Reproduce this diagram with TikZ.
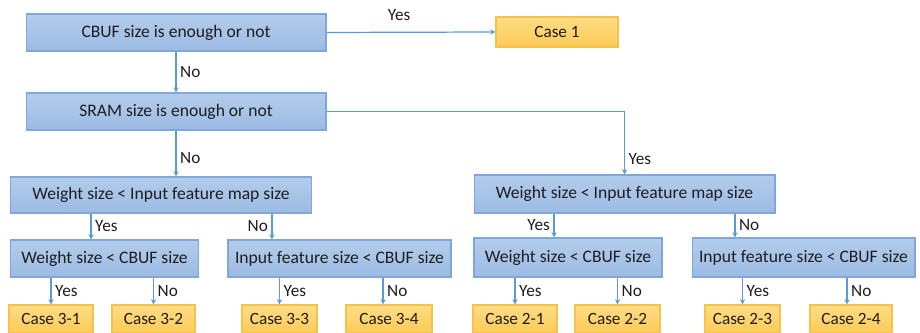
\documentclass[tikz,border=0pt]{standalone}
\usepackage{fontspec}
\setmainfont{Carlito}
\usetikzlibrary{arrows.meta,positioning}

\definecolor{boxtop}{HTML}{B3CCEB}
\definecolor{boxbot}{HTML}{9CBBE4}
\definecolor{boxline}{HTML}{7FA7DA}
\definecolor{casetop}{HTML}{FFDC85}
\definecolor{casebot}{HTML}{FDCB58}
\definecolor{caseline}{HTML}{F6C34A}
\definecolor{arrline}{HTML}{5B9BD5}
\definecolor{txt}{HTML}{1E1E1E}

\tikzset{
  testbox/.style={draw=boxline, line width=0.6pt, top color=boxtop, bottom color=boxbot,
    minimum height=0.74cm, inner sep=0pt, text=txt, font=\fontsize{10}{12}\selectfont},
  casebox/.style={draw=caseline, line width=0.6pt, top color=casetop, bottom color=casebot,
    minimum height=0.56cm, inner sep=0pt, text=txt, font=\fontsize{9.8}{11}\selectfont},
  arr/.style={draw=arrline, line width=0.7pt, -{Stealth[length=3pt,width=3pt]}},
  lbl/.style={text=txt, inner sep=2pt, font=\fontsize{9.8}{11}\selectfont}
}

\begin{document}
\begin{tikzpicture}[x=0.02cm,y=-0.02cm]
	%Picture frame, 920 x 333 px
	\useasboundingbox (0,0) rectangle (920,333);

	%First two tests
	\node[testbox, minimum width=6cm] (cbuf) at (176,32.5) {CBUF size is enough or not};
	\node[casebox, minimum width=2.44cm, minimum height=0.6cm] (case1) at (557,32) {Case 1};
	\node[testbox, minimum width=6cm] (sram) at (176,111.5) {SRAM size is enough or not};

	%Second level: weight vs input feature map
	\node[testbox, minimum width=6.04cm, minimum height=0.72cm] (wL) at (161,195) {Weight size < Input feature map size};
	\node[testbox, minimum width=6.02cm, minimum height=0.76cm] (wR) at (624.5,194) {Weight size < Input feature map size};

	%Third level, left (SRAM not enough)
	\node[testbox, minimum width=3.76cm] (wcL) at (104.5,258.5) {Weight size < CBUF size};
	\node[testbox, minimum width=4.46cm] (ifL) at (339.5,258.5) {Input feature size < CBUF size};
	%Third level, right (SRAM enough)
	\node[testbox, minimum width=3.76cm, minimum height=0.78cm] (wcR) at (568,257.5) {Weight size < CBUF size};
	\node[testbox, minimum width=4.46cm, minimum height=0.78cm] (ifR) at (803.5,257.5) {Input feature size < CBUF size};

	%The cases
	\node[casebox, minimum width=1.68cm] (c31) at (51,319) {Case 3-1};
	\node[casebox, minimum width=1.66cm] (c32) at (153.5,319) {Case 3-2};
	\node[casebox, minimum width=1.5cm] (c33) at (279.5,319) {Case 3-3};
	\node[casebox, minimum width=1.72cm] (c34) at (389,319) {Case 3-4};
	\node[casebox, minimum width=1.68cm] (c21) at (515,319) {Case 2-1};
	\node[casebox, minimum width=1.7cm] (c22) at (617.5,319) {Case 2-2};
	\node[casebox, minimum width=1.5cm] (c23) at (742.5,319) {Case 2-3};
	\node[casebox, minimum width=1.64cm] (c24) at (851,319) {Case 2-4};

	%Connectors from the top tests
	\draw[arr] (cbuf.east) -- node[lbl, above, pos=0.43, yshift=4pt] {Yes} (case1.west);
	\draw[arr] (cbuf.south) -- node[lbl, right] {No} (sram.north);
	\draw[arr] (sram.south) -- node[lbl, right, pos=0.6] {No} (sram.south |- wL.north);
	\draw[arr] (sram.east) -| node[lbl, right, pos=0.88] {Yes} (wR.north);

	%Connectors from the weight tests
	\draw[arr] ([xshift=-1.4cm]wL.south) -- node[lbl, right] {Yes} ([xshift=-1.4cm]wL.south |- wcL.north);
	\draw[arr] ([xshift=2.22cm]wL.south) -- node[lbl, left] {No} ([xshift=2.22cm]wL.south |- ifL.north);
	\draw[arr] ([xshift=-1.41cm]wR.south) -- node[lbl, left] {Yes} ([xshift=-1.41cm]wR.south |- wcR.north);
	\draw[arr] ([xshift=2.21cm]wR.south) -- node[lbl, right] {No} ([xshift=2.21cm]wR.south |- ifR.north);

	%Connectors to the cases
	\draw[arr] (c31.north |- wcL.south) -- node[lbl, right] {Yes} (c31.north);
	\draw[arr] (c32.north |- wcL.south) -- node[lbl, right] {No} (c32.north);
	\draw[arr] (c33.north |- ifL.south) -- node[lbl, right] {Yes} (c33.north);
	\draw[arr] ([xshift=-0.12cm]c34.north |- ifL.south) -- node[lbl, right] {No} ([xshift=-0.12cm]c34.north);
	\draw[arr] (c21.north |- wcR.south) -- node[lbl, right] {Yes} (c21.north);
	\draw[arr] (c22.north |- wcR.south) -- node[lbl, right] {No} (c22.north);
	\draw[arr] (c23.north |- ifR.south) -- node[lbl, right] {Yes} (c23.north);
	\draw[arr] ([xshift=-0.08cm]c24.north |- ifR.south) -- node[lbl, right] {No} ([xshift=-0.08cm]c24.north);
\end{tikzpicture}
\end{document}
